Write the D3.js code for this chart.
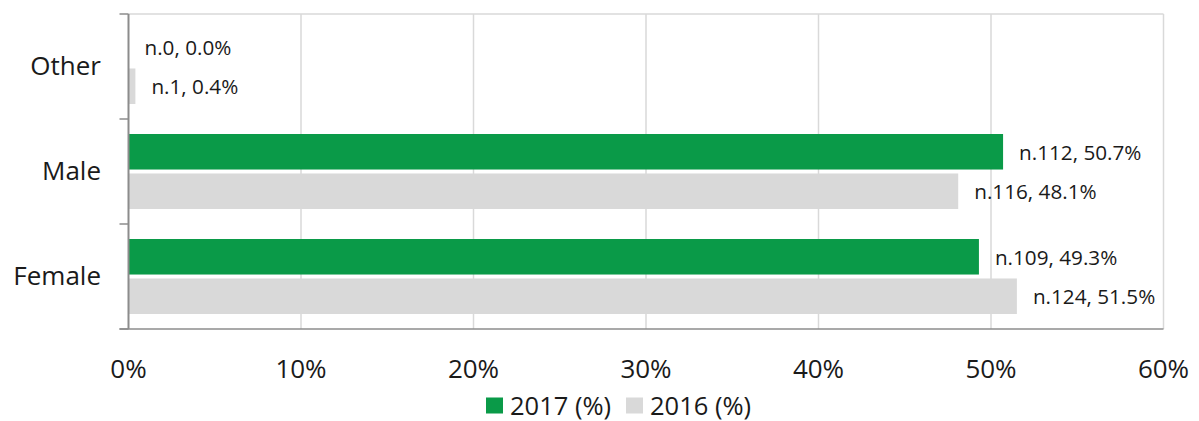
<!DOCTYPE html>
<html><head><meta charset="utf-8">
<script src="https://cdn.jsdelivr.net/npm/d3@7"></script>
<style>
html,body{margin:0;padding:0;background:#fff;}
text{font-family:"Open Sans","Noto Sans",sans-serif;fill:#1a1a1a;}
</style></head>
<body>
<svg id="c" width="1199" height="421"></svg>
<script>
const categories = ["Other", "Male", "Female"];
const seriesNames = ["2017 (%)", "2016 (%)"];
const values2017 = [0.0, 50.7, 49.3];
const values2016 = [0.4, 48.1, 51.5];
const counts2017 = [0, 112, 109];
const counts2016 = [1, 116, 124];
const xTicks = [0, 10, 20, 30, 40, 50, 60];
const colors = ["#0a9a48", "#d9d9d9"];

const svg = d3.select("#c");
const L = 128.5, R = 1163.5, T = 14, B = 329;
const x = d3.scaleLinear().domain([0, 60]).range([L, R]);
const y0 = d3.scaleBand().domain(categories).range([T, B]).padding(0);
const y1 = d3.scaleBand().domain(seriesNames).range([0, y0.bandwidth()]).paddingInner(0.1).paddingOuter(0.38);

// gridlines
svg.append("g").selectAll("line").data(xTicks.filter(d => d > 0)).join("line")
  .attr("x1", d => x(d)).attr("x2", d => x(d)).attr("y1", T).attr("y2", B)
  .attr("stroke", "#d9d9d9").attr("stroke-width", 1.5);
svg.append("line").attr("x1", L).attr("x2", R).attr("y1", T).attr("y2", T)
  .attr("stroke", "#d9d9d9").attr("stroke-width", 1.5);

const rows = [];
categories.forEach((c, i) => {
  rows.push({cat: c, s: seriesNames[0], v: values2017[i], n: counts2017[i], col: colors[0]});
  rows.push({cat: c, s: seriesNames[1], v: values2016[i], n: counts2016[i], col: colors[1]});
});

svg.append("g").selectAll("rect").data(rows).join("rect")
  .attr("x", x(0)).attr("y", d => y0(d.cat) + y1(d.s))
  .attr("width", d => x(d.v) - x(0)).attr("height", y1.bandwidth())
  .attr("fill", d => d.col);

svg.append("g").selectAll("text").data(rows).join("text")
  .attr("x", d => x(d.v) + 16).attr("y", d => y0(d.cat) + y1(d.s) + y1.bandwidth() / 2)
  .attr("dominant-baseline", "central")
  .attr("font-size", 20.7)
  .text(d => `n.${d.n}, ${d.v.toFixed(1)}%`);

// left axis
const axisCol = "#8c8c8c";
svg.append("line").attr("x1", L).attr("x2", L).attr("y1", T).attr("y2", B)
  .attr("stroke", axisCol).attr("stroke-width", 2);
const bounds = categories.map(c => y0(c)).concat([B]);
svg.append("g").selectAll("line").data(bounds).join("line")
  .attr("x1", L - 9).attr("x2", L).attr("y1", d => d).attr("y2", d => d)
  .attr("stroke", axisCol).attr("stroke-width", 1.5);
svg.append("line").attr("x1", L - 9).attr("x2", R).attr("y1", B).attr("y2", B)
  .attr("stroke", axisCol).attr("stroke-width", 1.5);

svg.append("g").selectAll("text").data(categories).join("text")
  .attr("x", 101).attr("y", d => y0(d) + y0.bandwidth() / 2 - 1.5)
  .attr("text-anchor", "end").attr("dominant-baseline", "central")
  .attr("font-size", 26).text(d => d);

svg.append("g").selectAll("text").data(xTicks).join("text")
  .attr("x", d => x(d)).attr("y", 368)
  .attr("text-anchor", "middle").attr("dominant-baseline", "central")
  .attr("font-size", 26).text(d => d + "%");

// legend
const lg = svg.append("g");
const legX = [486, 626];
seriesNames.forEach((s, i) => {
  lg.append("rect").attr("x", legX[i]).attr("y", 397.5).attr("width", 17).attr("height", 16).attr("fill", colors[i]);
  lg.append("text").attr("x", legX[i] + 24).attr("y", 404.5).attr("dominant-baseline", "central")
    .attr("font-size", 25.5).text(s);
});
</script>
</body></html>
